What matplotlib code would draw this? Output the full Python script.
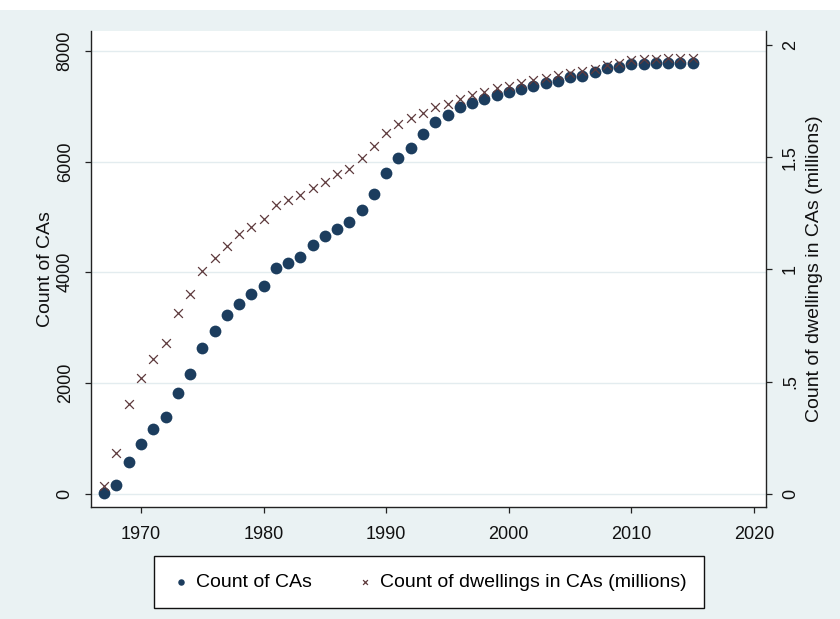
import matplotlib.pyplot as plt
from matplotlib.patches import Rectangle

plt.rcParams['font.family'] = ['Liberation Sans', 'DejaVu Sans']

years = list(range(1967, 2016))
ca_count = [10, 150, 570, 895, 1165, 1385, 1815, 2160, 2630, 2940,
            3225, 3425, 3605, 3750, 4075, 4170, 4275, 4495, 4655, 4780,
            4910, 5125, 5415, 5795, 6065, 6245, 6500, 6715, 6845, 6990,
            7060, 7135, 7205, 7260, 7315, 7370, 7425, 7460, 7530, 7550,
            7620, 7695, 7710, 7765, 7765, 7785, 7785, 7785, 7785]
dwellings_m = [0.036, 0.183, 0.401, 0.517, 0.601, 0.673, 0.806, 0.891, 0.993, 1.051,
               1.105, 1.158, 1.189, 1.225, 1.287, 1.310, 1.332, 1.363, 1.390, 1.425,
               1.448, 1.497, 1.550, 1.608, 1.648, 1.675, 1.697, 1.724, 1.737, 1.759,
               1.777, 1.791, 1.808, 1.817, 1.831, 1.844, 1.853, 1.866, 1.875, 1.884,
               1.893, 1.911, 1.920, 1.933, 1.938, 1.938, 1.942, 1.942, 1.942]

left_ticks = [0, 2000, 4000, 6000, 8000]
left_labels = ['0', '2000', '4000', '6000', '8000']
right_ticks = [0, 0.5, 1, 1.5, 2]
right_labels = ['0', '.5', '1', '1.5', '2']
x_ticks = [1970, 1980, 1990, 2000, 2010, 2020]

bg = '#eaf2f3'
navy = '#1c3d5e'
maroon = '#5e3a3d'
axis_col = '#222222'
txt_col = '#111111'

fig = plt.figure(figsize=(8.4, 6.19), dpi=100, facecolor=bg)
# white strip along the top edge
fig.patches.append(Rectangle((0, 1 - 10 / 619), 1, 10 / 619, transform=fig.transFigure,
                             facecolor='white', edgecolor='none', zorder=0))

ax = fig.add_axes([91 / 840, 1 - 507 / 619, 675 / 840, 476 / 619])
ax.set_facecolor('white')
ax2 = ax.twinx()

ax.scatter(years, ca_count, s=72, color=navy, marker='o', linewidths=0,
           label='Count of CAs', zorder=3)
ax2.scatter(years, dwellings_m, s=40, color=maroon, marker='x', linewidths=0.9,
            label='Count of dwellings in CAs (millions)', zorder=4)

ax.set_xlim(1965.92, 2020.98)
ax.set_ylim(-244, 8362)
ax2.set_ylim(-0.058, 2.062)

ax.set_xticks(x_ticks)
ax.set_yticks(left_ticks)
ax.set_yticklabels(left_labels)
ax2.set_yticks(right_ticks)
ax2.set_yticklabels(right_labels)

ax.grid(axis='y', color='#e3ecef', linewidth=1.0)
ax.set_axisbelow(True)

for a in (ax, ax2):
    a.spines['top'].set_visible(False)
    for sp in a.spines.values():
        sp.set_color(axis_col)
        sp.set_linewidth(1.0)
ax.spines['right'].set_visible(False)
ax2.spines['left'].set_visible(False)
ax2.spines['bottom'].set_visible(False)

ax.tick_params(axis='x', direction='out', length=4.5, width=0.9, color=axis_col,
               labelsize=13, pad=9, labelcolor=txt_col)
ax.tick_params(axis='y', direction='out', length=4.5, width=0.9, color=axis_col,
               labelsize=13, pad=8, labelrotation=90, labelcolor=txt_col)
ax2.tick_params(axis='y', direction='out', length=4.5, width=0.9, color=axis_col,
                labelsize=13, pad=7, labelrotation=90, labelcolor=txt_col)
for lbl in ax.get_yticklabels() + ax2.get_yticklabels():
    lbl.set_verticalalignment('center')

ax.set_ylabel('Count of CAs', fontsize=14, labelpad=2, color=txt_col)
ax2.set_ylabel('Count of dwellings in CAs (millions)', fontsize=14, labelpad=5,
               color=txt_col)

h1, l1 = ax.get_legend_handles_labels()
h2, l2 = ax2.get_legend_handles_labels()
leg = fig.legend(h1 + h2, l1 + l2, loc='center', bbox_to_anchor=(429 / 840, 1 - 582 / 619),
                 ncol=2, fontsize=14, frameon=True, fancybox=False, framealpha=1,
                 edgecolor=txt_col, markerscale=0.55, handletextpad=0.3,
                 columnspacing=2.2, handlelength=1.0, borderpad=0.9, borderaxespad=0)
leg.get_frame().set_linewidth(1.0)

fig.savefig('out.png', dpi=100, facecolor=bg)
